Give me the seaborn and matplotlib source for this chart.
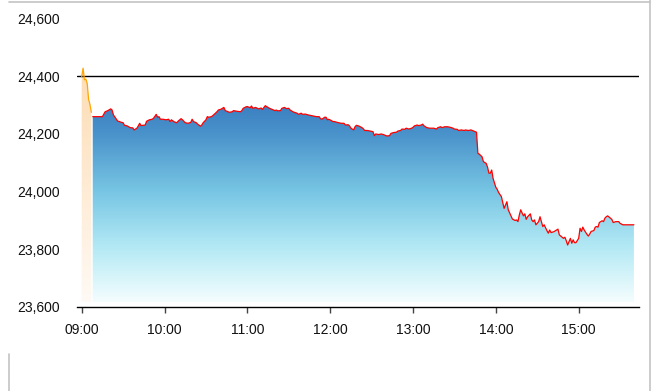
import numpy as np
import pandas as pd
import matplotlib
matplotlib.use("Agg")
import matplotlib.pyplot as plt
import seaborn as sns
from matplotlib.colors import LinearSegmentedColormap
from matplotlib.patches import PathPatch
from matplotlib.lines import Line2D

# ---- data (minutes after 09:00) ----
pre_minutes = [0, 1, 2, 3, 4, 5, 6, 7]
pre_values = [24398, 24428, 24388, 24390, 24375, 24320, 24302, 24275]

main_minutes = [8, 15, 17, 19, 21, 22, 23, 25, 26, 29, 30, 31, 33, 35, 37, 38, 40, 41, 42, 43,
                46, 47, 49, 51, 52, 54, 55, 56, 57, 59, 61, 63, 64, 65, 67, 69, 70, 72, 73, 75,
                77, 79, 80, 81, 83, 84, 86, 87, 88, 90, 91, 92, 94, 96, 98, 99, 101, 102, 103, 104,
                106, 107, 109, 110, 112, 115, 116, 117, 119, 120, 122, 123, 124, 126, 128, 130, 131, 132, 133, 135,
                136, 138, 140, 141, 142, 144, 145, 147, 148, 150, 151, 153, 154, 156, 157, 159, 160, 162, 164, 166,
                168, 170, 172, 173, 174, 176, 177, 178, 179, 181, 182, 183, 186, 188, 190, 191, 193, 194, 195, 197,
                198, 199, 201, 203, 204, 205, 207, 209, 211, 212, 213, 215, 217, 219, 221, 223, 224, 226, 228, 229,
                231, 232, 234, 235, 237, 239, 240, 241, 243, 244, 246, 247, 248, 250, 252, 253, 255, 257, 258, 260,
                261, 263, 265, 267, 269, 270, 272, 273, 275, 277, 278, 280, 282, 283, 285, 286, 287, 288, 290, 291,
                293, 294, 295, 296, 297, 298, 300, 301, 302, 304, 306, 307, 308, 309, 311, 312, 314, 315, 316, 317,
                318, 320, 321, 322, 323, 325, 326, 327, 328, 329, 331, 332, 333, 334, 335, 337, 338, 339, 340, 342,
                344, 345, 346, 347, 349, 350, 351, 352, 354, 355, 356, 357, 358, 360, 361, 362, 363, 364, 366, 367,
                368, 369, 371, 372, 373, 374, 375, 377, 378, 379, 380, 381, 383, 384, 385, 387, 389, 390, 392, 400]
main_values = [24260, 24260, 24277, 24281, 24287, 24283, 24266, 24252, 24245, 24240, 24239, 24230, 24228, 24222, 24221, 24214, 24220, 24228, 24237, 24229,
               24231, 24244, 24249, 24251, 24254, 24268, 24258, 24260, 24251, 24251, 24249, 24251, 24243, 24249, 24242, 24239, 24245, 24253, 24249, 24239,
               24237, 24240, 24251, 24243, 24239, 24234, 24227, 24231, 24239, 24249, 24260, 24258, 24260, 24268, 24277, 24283, 24286, 24289, 24292, 24281,
               24277, 24275, 24277, 24281, 24279, 24277, 24281, 24289, 24294, 24295, 24291, 24297, 24289, 24292, 24287, 24290, 24285, 24292, 24298, 24292,
               24289, 24285, 24281, 24283, 24280, 24281, 24289, 24292, 24288, 24289, 24283, 24277, 24275, 24272, 24268, 24272, 24268, 24269, 24266, 24264,
               24262, 24260, 24260, 24253, 24251, 24258, 24258, 24249, 24251, 24246, 24243, 24243, 24239, 24237, 24237, 24231, 24232, 24228, 24220, 24214,
               24225, 24230, 24227, 24222, 24218, 24212, 24212, 24210, 24208, 24194, 24200, 24198, 24200, 24197, 24193, 24194, 24202, 24205, 24206, 24210,
               24212, 24217, 24216, 24220, 24217, 24220, 24223, 24228, 24231, 24229, 24231, 24234, 24228, 24222, 24220, 24220, 24220, 24217, 24222, 24225,
               24222, 24225, 24225, 24223, 24220, 24217, 24216, 24212, 24214, 24212, 24214, 24212, 24214, 24212, 24208, 24206, 24133, 24130, 24121, 24104,
               24098, 24085, 24064, 24064, 24075, 24046, 24015, 24008, 23997, 23983, 23942, 23954, 23965, 23937, 23916, 23905, 23900, 23902, 23896, 23919,
               23937, 23916, 23923, 23904, 23913, 23923, 23902, 23896, 23902, 23885, 23896, 23913, 23896, 23879, 23885, 23865, 23856, 23867, 23858, 23861,
               23867, 23870, 23850, 23846, 23838, 23842, 23830, 23815, 23838, 23821, 23833, 23823, 23823, 23838, 23873, 23862, 23877, 23867, 23852, 23846,
               23853, 23862, 23865, 23877, 23879, 23877, 23893, 23899, 23896, 23908, 23913, 23916, 23908, 23904, 23893, 23896, 23896, 23890, 23885, 23885]

prev_close = 24400
x_tick_minutes = [0, 60, 120, 180, 240, 300, 360]
x_tick_labels = ["09:00", "10:00", "11:00", "12:00", "13:00", "14:00", "15:00"]
y_ticks = [23600, 23800, 24000, 24200, 24400, 24600]
y_tick_labels = ["23,600", "23,800", "24,000", "24,200", "24,400", "24,600"]

pre_df = pd.DataFrame({"minute": pre_minutes, "value": pre_values})
main_df = pd.DataFrame({"minute": main_minutes, "value": main_values})

# ---- style ----
sns.set_style("white")
plt.rcParams["font.family"] = ["Liberation Sans", "DejaVu Sans"]

fig = plt.figure(figsize=(6.51, 3.91), dpi=100)
ax = fig.add_axes([77 / 651, 1 - 307 / 391, 562 / 651, (307 - 18.6) / 391])

XMIN, XMAX = -3.4, 403.7
YMIN, YMAX = 23600, 24600
FILL_BASE = 23618


def gradient_fill(df, colors, top, zorder):
    poly = ax.fill_between(df["minute"], df["value"], FILL_BASE, color="none", linewidth=0)
    path = poly.get_paths()[0]
    patch = PathPatch(path, transform=ax.transData, facecolor="none", edgecolor="none")
    ax.add_patch(patch)
    cmap = LinearSegmentedColormap.from_list("g", colors)
    grad = np.linspace(0, 1, 256).reshape(-1, 1)
    im = ax.imshow(grad, extent=[XMIN, XMAX, FILL_BASE, top], aspect="auto",
                   origin="lower", cmap=cmap, zorder=zorder, interpolation="bilinear")
    im.set_clip_path(patch)


gradient_fill(main_df,
              [(0.0, "#f4fdfe"), (0.27, "#b5eaf5"), (0.56, "#78c6e4"), (0.85, "#4a93cb"), (1.0, "#3b80c2")],
              24300, 1)
gradient_fill(pre_df,
              [(0.0, "#fffaf5"), (1.0, "#fddcb3")],
              24430, 1)

ax.axhline(prev_close, color="black", linewidth=1.0, zorder=2)

sns.lineplot(data=pre_df, x="minute", y="value", color="#ffa500", linewidth=0.9, ax=ax, zorder=3)
sns.lineplot(data=main_df, x="minute", y="value", color="#ff0000", linewidth=0.9, ax=ax, zorder=3)

ax.set_xlim(XMIN, XMAX)
ax.set_ylim(YMIN, YMAX)
ax.set_xticks(x_tick_minutes)
ax.set_xticklabels(x_tick_labels)
ax.set_yticks(y_ticks)
ax.set_yticklabels(y_tick_labels)
ax.set_xlabel("")
ax.set_ylabel("")

for s in ["top", "right", "left"]:
    ax.spines[s].set_visible(False)
ax.spines["bottom"].set_color("black")
ax.spines["bottom"].set_linewidth(1.0)

ax.tick_params(axis="x", direction="out", length=4.5, width=1.0, color="#444444",
               labelsize=10, labelcolor="#111111", pad=7, bottom=True)
ax.tick_params(axis="y", length=0, labelsize=10, labelcolor="#111111", pad=12)
ax.grid(False)
ax.set_facecolor("white")

# frame remnants around the chart
border = "#c4c4c4"
fig.add_artist(Line2D([8.5 / 651, 649.5 / 651], [1 - 1.5 / 391, 1 - 1.5 / 391], color=border, linewidth=1.2))
fig.add_artist(Line2D([649.5 / 651, 649.5 / 651], [0, 1], color=border, linewidth=1.2))
fig.add_artist(Line2D([8.5 / 651, 8.5 / 651], [0, 1 - 354 / 391], color=border, linewidth=1.2))

fig.savefig("out.png", dpi=100)
